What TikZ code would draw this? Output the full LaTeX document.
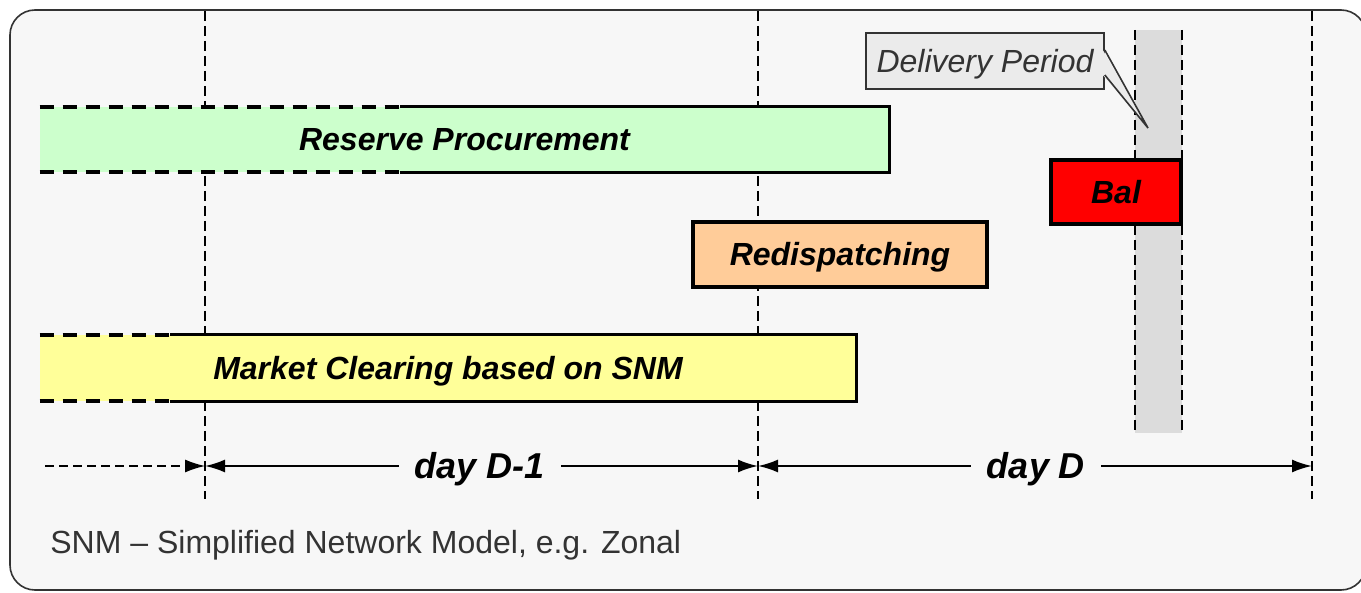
\documentclass[tikz,border=0pt]{standalone}
\usepackage{fontspec}
\setmainfont{Liberation Sans}
\usetikzlibrary{arrows.meta,positioning}
\definecolor{panelcolor}{HTML}{F7F7F7}
\definecolor{reservecolor}{HTML}{CCFFCC}
\definecolor{redispcolor}{HTML}{FFCC99}
\definecolor{marketcolor}{HTML}{FFFF99}
\definecolor{balcolor}{HTML}{FF0000}
\definecolor{bandcolor}{HTML}{DCDCDC}
\definecolor{notecolor}{HTML}{EBEBEB}
\definecolor{linecolor}{HTML}{333333}

\begin{document}
\begin{tikzpicture}[
        x=0.5pt,
        y=-0.5pt,
        timeline/.style={line width=1.2pt, dash pattern=on 5pt off 2.5pt},
        barbox/.style={inner sep=0pt, text height=11.5pt, text depth=0pt,
            font=\fontsize{16}{19}\selectfont\bfseries\itshape},
        solidedge/.style={line width=1.7pt},
        dashedge/.style={line width=2pt, dash pattern=on 7pt off 4.5pt},
        notebox/.style={draw=linecolor, line width=0.8pt, fill=notecolor, inner sep=0pt,
            text height=11.5pt, text depth=0pt, text=linecolor,
            font=\fontsize{16}{19}\selectfont\itshape},
        dayarrow/.style={-{Latex[length=10pt, width=6.5pt]}, line width=1pt},
        daylabel/.style={inner sep=8pt, text height=12.9pt, text depth=0pt,
            font=\fontsize{18}{21}\selectfont\bfseries\itshape}
    ]
        \useasboundingbox (0,0) rectangle (1361,593);
        \draw[linecolor, line width=0.8pt, fill=panelcolor, rounded corners=12.5pt]
            (10,10) rectangle (1366,590);

        % day boundaries and delivery period
        \foreach \x in {205,758,1312}
            \draw[timeline] (\x,11) -- (\x,499);
        \fill[bandcolor] (1135,30) rectangle (1182,433);
        \draw[timeline] (1135,30) -- (1135,433);
        \draw[timeline] (1182,30) -- (1182,433);

        % reserve procurement
        \node[barbox, fill=reservecolor, minimum width=424.5pt, minimum height=32.5pt]
            (reserve) at (464.5,139.5) {Reserve Procurement};
        \coordinate (reservesplit) at (400,0);
        \draw[dashedge] (reserve.north west) -- (reserve.north west -| reservesplit);
        \draw[dashedge] (reserve.south west) -- (reserve.south west -| reservesplit);
        \draw[solidedge] (reserve.north west -| reservesplit) -- (reserve.north east)
            -- (reserve.south east) -- (reserve.south west -| reservesplit);

        \node[barbox, draw, solidedge, fill=redispcolor, minimum width=147pt, minimum height=32.5pt]
            (redisp) at (840,254.5) {Redispatching};
        \node[barbox, draw, solidedge, fill=balcolor, minimum width=65pt, minimum height=32pt]
            (bal) at (1116,192) {Bal};

        % market clearing
        \node[barbox, fill=marketcolor, minimum width=408pt, minimum height=33pt]
            (market) at (448,368) {Market Clearing based on SNM};
        \coordinate (marketsplit) at (170,0);
        \draw[dashedge] (market.north west) -- (market.north west -| marketsplit);
        \draw[dashedge] (market.south west) -- (market.south west -| marketsplit);
        \draw[solidedge] (market.north west -| marketsplit) -- (market.north east)
            -- (market.south east) -- (market.south west -| marketsplit);

        \node[notebox, minimum width=119pt, minimum height=28pt]
            (delivery) at (985,61) {Delivery Period};
        \coordinate (deliverytip) at (1148,128);
        \fill[notecolor] ([xshift=-1pt,yshift=5.5pt]delivery.east) -- (deliverytip)
            -- ([xshift=-1pt,yshift=-7pt]delivery.east) -- cycle;
        \draw[linecolor, line width=0.8pt] ([yshift=5.5pt]delivery.east) -- (deliverytip)
            -- ([yshift=-7pt]delivery.east);

        % time axis
        \coordinate (tstart) at (45,466);
        \coordinate (tprev) at (205,466);
        \coordinate (tday) at (758,466);
        \coordinate (tnext) at (1312,466);
        \node[daylabel] (dayprev) at (480,466) {day D-1};
        \node[daylabel] (daycur) at (1036,466) {day D};
        \draw[dayarrow, line width=0.7pt, dash pattern=on 4.5pt off 2.5pt] (tstart) -- (tprev);
        \draw[dayarrow] (dayprev.west) -- (tprev);
        \draw[dayarrow] (dayprev.east) -- (tday);
        \draw[dayarrow] (daycur.west) -- (tday);
        \draw[dayarrow] (daycur.east) -- (tnext);

        \node[anchor=base west, inner sep=0pt, text=linecolor, font=\fontsize{16}{19}\selectfont]
            (snmnote) at (50,553) {SNM – Simplified Network Model, e.g. Zonal};
    \end{tikzpicture}
\end{document}
